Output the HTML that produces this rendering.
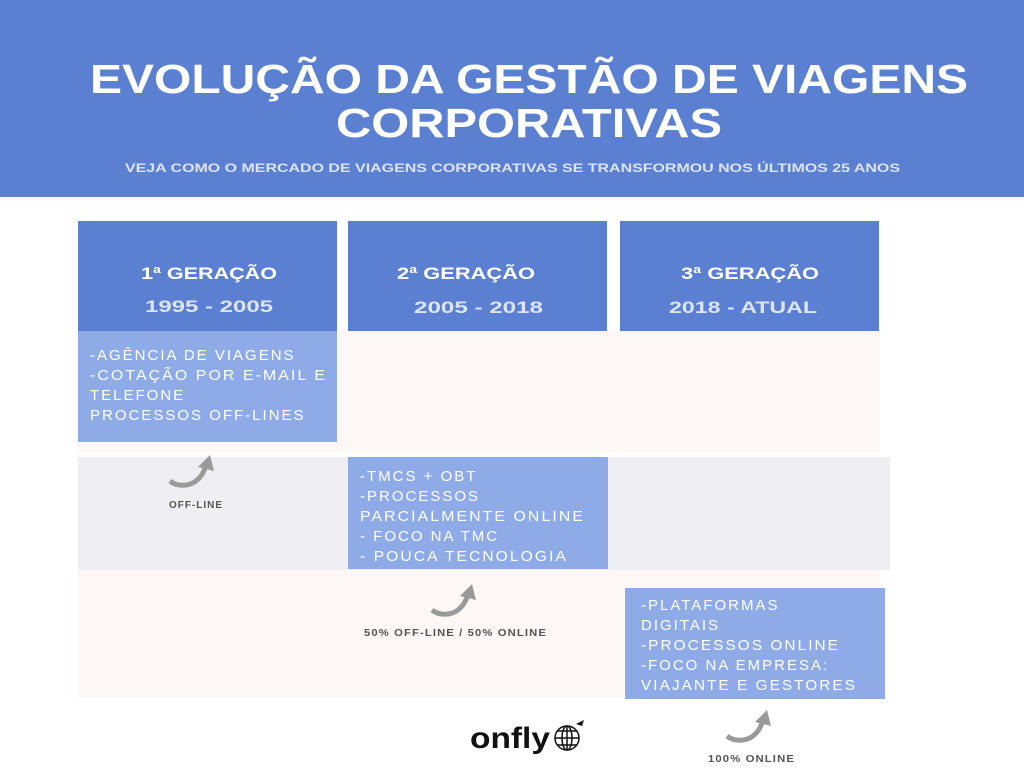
<!DOCTYPE html>
<html><head><meta charset="utf-8"><style>
html,body{margin:0;padding:0;background:#fff;}
svg{display:block}
text{font-family:"Liberation Sans",sans-serif;font-weight:bold}
.c{fill:#fff;font-size:15px;font-weight:normal;letter-spacing:2px}
.l{fill:#555;font-size:10px;letter-spacing:1px}
</style></head><body>
<svg width="1024" height="768" viewBox="0 0 1024 768" xmlns="http://www.w3.org/2000/svg">
<defs>
<g id="arr">
<path d="M0 26 C10 34 30 32 36 10" fill="none" stroke="#9a9a9a" stroke-width="5"/>
<path d="M28 12 L40 0 L44 16 Z" fill="#9a9a9a"/>
</g>
</defs>
<rect x="0" y="0" width="1024" height="197" fill="#5b80d1"/>
<text x="529" y="93" text-anchor="middle" fill="#fff" font-size="41" textLength="878" lengthAdjust="spacingAndGlyphs">EVOLUÇÃO DA GESTÃO DE VIAGENS</text>
<text x="529" y="137" text-anchor="middle" fill="#fff" font-size="41" textLength="386" lengthAdjust="spacingAndGlyphs">CORPORATIVAS</text>
<text x="125" y="172" fill="#dce3f5" font-size="12" textLength="775" lengthAdjust="spacingAndGlyphs">VEJA COMO O MERCADO DE VIAGENS CORPORATIVAS SE TRANSFORMOU NOS ÚLTIMOS 25 ANOS</text>

<rect x="78" y="331" width="802" height="121" fill="#fdf8f5"/>
<rect x="78" y="457" width="812" height="113" fill="#efeff3"/>
<rect x="78" y="570" width="802" height="127" fill="#fdf8f5"/>

<rect x="78" y="221" width="259" height="110" fill="#5b80d1"/>
<rect x="348" y="221" width="259" height="110" fill="#5b80d1"/>
<rect x="620" y="221" width="259" height="110" fill="#5b80d1"/>
<text x="141" y="279" fill="#fff" font-size="17" textLength="136" lengthAdjust="spacingAndGlyphs">1ª GERAÇÃO</text>
<text x="145" y="312" fill="#dde4f5" font-size="17" textLength="128" lengthAdjust="spacingAndGlyphs">1995 - 2005</text>
<text x="397" y="279" fill="#fff" font-size="17" textLength="138" lengthAdjust="spacingAndGlyphs">2ª GERAÇÃO</text>
<text x="414" y="313" fill="#dde4f5" font-size="17" textLength="129" lengthAdjust="spacingAndGlyphs">2005 - 2018</text>
<text x="681" y="279" fill="#fff" font-size="17" textLength="138" lengthAdjust="spacingAndGlyphs">3ª GERAÇÃO</text>
<text x="669" y="313" fill="#dde4f5" font-size="17" textLength="148" lengthAdjust="spacingAndGlyphs">2018 - ATUAL</text>

<rect x="78" y="331" width="259" height="111" fill="#8eabe8"/>
<text class="c" x="90" y="360">-AGÊNCIA DE VIAGENS</text>
<text class="c" x="90" y="380" textLength="237" lengthAdjust="spacingAndGlyphs">-COTAÇÃO POR E-MAIL E</text>
<text class="c" x="90" y="400">TELEFONE</text>
<text class="c" x="90" y="420">PROCESSOS OFF-LINES</text>

<rect x="348" y="457" width="260" height="112" fill="#8eabe8"/>
<text class="c" x="360" y="481">-TMCS + OBT</text>
<text class="c" x="360" y="501">-PROCESSOS</text>
<text class="c" x="360" y="521" textLength="225" lengthAdjust="spacingAndGlyphs">PARCIALMENTE ONLINE</text>
<text class="c" x="360" y="541">- FOCO NA TMC</text>
<text class="c" x="360" y="561" textLength="208" lengthAdjust="spacingAndGlyphs">- POUCA TECNOLOGIA</text>

<rect x="625" y="588" width="260" height="111" fill="#8eabe8"/>
<text class="c" x="641" y="610">-PLATAFORMAS</text>
<text class="c" x="641" y="630">DIGITAIS</text>
<text class="c" x="641" y="650" textLength="199" lengthAdjust="spacingAndGlyphs">-PROCESSOS ONLINE</text>
<text class="c" x="641" y="670">-FOCO NA EMPRESA:</text>
<text class="c" x="641" y="690" textLength="216" lengthAdjust="spacingAndGlyphs">VIAJANTE E GESTORES</text>

<use href="#arr" x="170" y="455"/>
<use href="#arr" x="432" y="584"/>
<use href="#arr" x="727" y="710"/>
<text class="l" x="196" y="508" text-anchor="middle">OFF-LINE</text>
<text class="l" x="364" y="636" textLength="183" lengthAdjust="spacingAndGlyphs">50% OFF-LINE / 50% ONLINE</text>
<text class="l" x="708" y="762" textLength="87" lengthAdjust="spacingAndGlyphs">100% ONLINE</text>

<text x="470" y="748" fill="#111" font-size="30" textLength="80" lengthAdjust="spacingAndGlyphs">onfly</text>
<g fill="none" stroke="#111" stroke-width="1.5">
<circle cx="567" cy="738" r="12"/>
<ellipse cx="567" cy="738" rx="5" ry="12"/>
<line x1="555" y1="738" x2="579" y2="738"/>
<line x1="557" y1="731" x2="577" y2="731"/>
<line x1="557" y1="745" x2="577" y2="745"/>
<line x1="567" y1="726" x2="567" y2="750"/>
</g>
<path d="M576 724 L584 720 L582 726 Z" fill="#111"/>
</svg>
</body></html>
